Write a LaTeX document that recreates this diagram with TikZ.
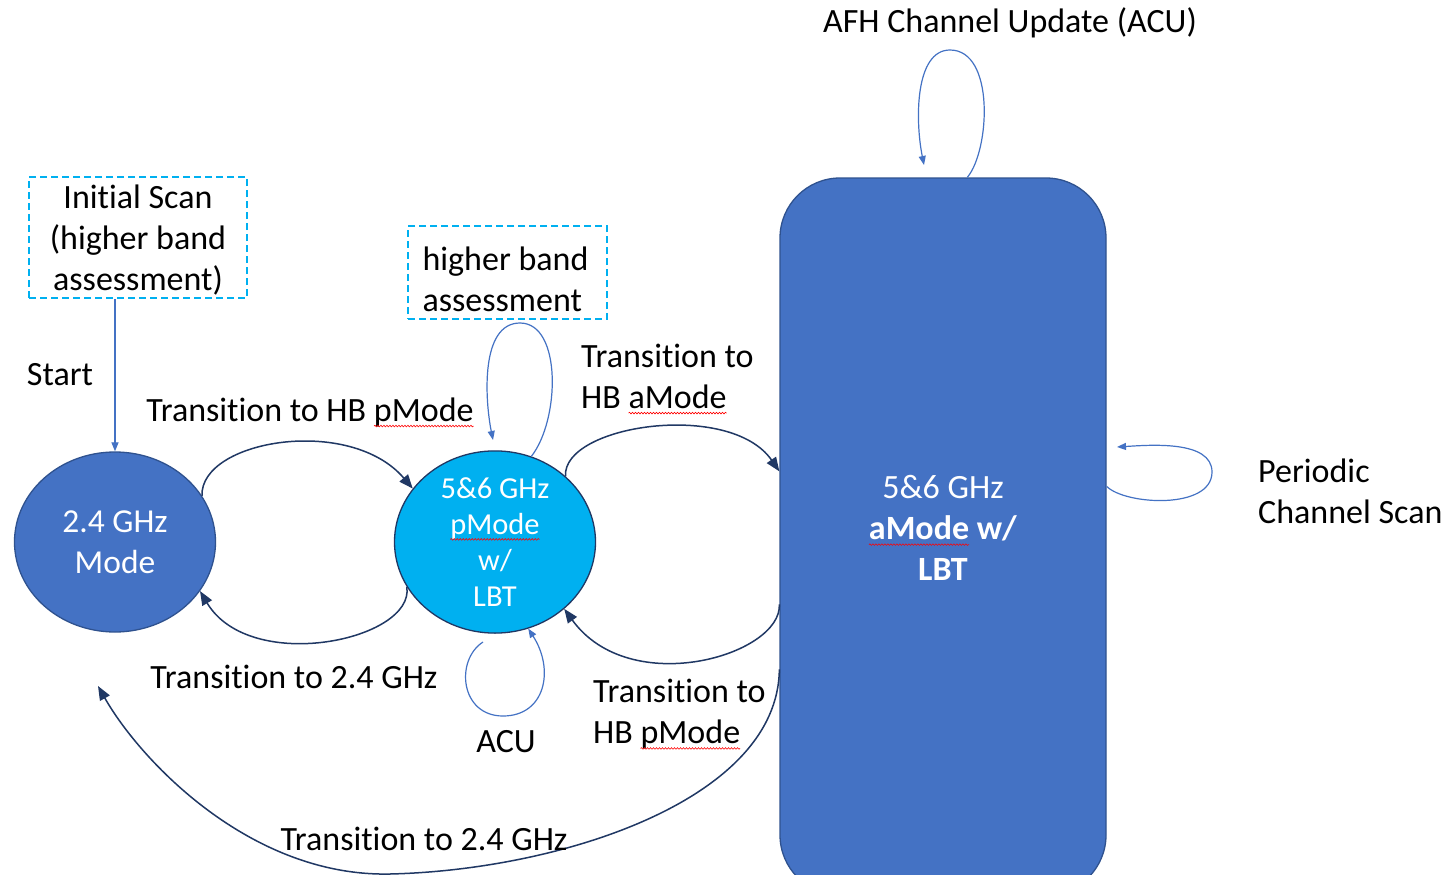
\documentclass[tikz,border=0pt]{standalone}
\usepackage{fontspec}
\setmainfont{Carlito}[RawFeature={-liga;-clig;-dlig;-calt}]
\usetikzlibrary{arrows.meta,shapes.geometric,calc,decorations.pathmorphing}
\definecolor{bluefill}{HTML}{4472C4}
\definecolor{cyanfill}{HTML}{00B0F0}
\definecolor{navy}{HTML}{203864}
\definecolor{bordblue}{HTML}{2F528F}
\definecolor{dashcyan}{HTML}{00B0F0}
\newsavebox\sqbox
\newlength\sqlen
\newcommand\squig[1]{\sbox\sqbox{#1}\setlength\sqlen{\wd\sqbox}\rlap{\usebox\sqbox}\tikz[overlay,baseline=0pt]\draw[red,line width=0.6pt,decorate,decoration={snake,amplitude=0.8pt,segment length=3pt}] (0pt,-5pt)--(\sqlen,-5pt);\kern\sqlen\relax}
\begin{document}
\begin{tikzpicture}[x=1pt,y=-1pt,
 lab/.style={font=\fontsize{34}{41}\selectfont,inner sep=0pt,align=center},
 conn/.style={draw=navy,line width=1.5pt,-{Triangle[length=14pt,width=11pt]}},
 loopln/.style={draw=bluefill,line width=1.2pt,-{Triangle[length=9pt,width=7pt]}},
 dashbox/.style={draw=dashcyan,line width=2pt,dash pattern=on 7pt off 4pt,inner sep=0pt},
 statenode/.style={ellipse,line width=1.3pt,inner sep=0pt,minimum width=201pt,minimum height=180pt,text=white,align=center}]
\useasboundingbox (0,0) rectangle (1448,875);
\fill[white] (0,0) rectangle (1448,875);
\clip (0,0) rectangle (1448,875);

% dashed note boxes
\node[dashbox,minimum width=218pt,minimum height=121pt] (init) at (138,237.5) {};
\node[lab] (inittxt) at ($(init.center)+(0,3)$) {Initial Scan\\(higher band\\assessment)};
\node[dashbox,minimum width=199pt,minimum height=93pt] (hb) at (507.5,272.5) {};
\node[lab,align=left] (hbtxt) at ($(hb.center)+(-2,7)$) {higher band\\assessment};

% states
\node[statenode,fill=bluefill,draw=bordblue,font=\fontsize{33.5}{41}\selectfont] (a) at (115,542) {2.4 GHz\\Mode};
\node[statenode,fill=cyanfill,draw=navy,font=\fontsize{30.5}{36}\selectfont] (b) at (495,542) {5\&6 GHz\\\squig{pMode}\\w/\\LBT};
\node[draw=bordblue,fill=bluefill,line width=1.3pt,rounded corners=60pt,minimum width=326pt,minimum height=717pt,inner sep=0pt] (c) at (943,536.5) {};
\node[lab,text=white] (ctxt) at (943,528) {5\&6 GHz\\\textbf{\squig{aMode} w/}\\\textbf{LBT}};

% labels
\node[lab] (start) at (60,375) {Start};
\node[lab] (l1) at (310,412) {Transition to HB \squig{pMode}};
\node[lab] (l2) at (294,677) {Transition to 2.4 GHz};
\node[lab,align=left,anchor=west] (l3) at (581,376) {Transition to\\HB \squig{aMode}};
\node[lab,align=left,anchor=west] (l4) at (593,714) {Transition to\\HB \squig{pMode}};
\node[lab] (l5) at (506,742) {ACU};
\node[lab] (l7) at (1010,23) {AFH Channel Update (ACU)};
\node[lab,align=left,anchor=west] (l8) at (1258,491) {Periodic\\Channel Scan};

% free ends
\coordinate (tipA) at (98,686);
\coordinate (tipB) at (493,440);
\coordinate (acuStart) at (483,642);
\coordinate (tipC) at (924,165);
\coordinate (tipD) at (1117,447);

% connectors
\draw[loopln] (init.south -| a.north) -- (a.north);
\draw[conn] (a.28) .. controls (200,440) and (350,415) .. (b.147);
\draw[conn] (b.207) .. controls (415,640) and (250,675) .. (a.-30);
\draw[conn] (b.43) .. controls (562,425) and (730,400) .. ($(c.north west)+(0,294)$);
\draw[conn] ($(c.north west)+(0,427)$) .. controls (782,655) and (630,700) .. (b.-44);
\draw[conn] ($(c.north west)+(0,492)$) .. controls (778,800) and (560,870) .. (390,874) .. controls (250,877) and (140,760) .. (tipA);
\node[lab] (l6) at (424,839) {Transition to 2.4 GHz};

% self loops
\draw[loopln] (b.67) .. controls (560,420) and (562,323) .. (520,323) .. controls (480,323) and (485,400) .. (tipB);
\draw[loopln] (acuStart) .. controls (455,660) and (460,716) .. (503,716) .. controls (545,716) and (555,670) .. (b.-69);
\draw[loopln] ($(c.north west)+(188,0)$) .. controls (990,150) and (995,50) .. (950,50) .. controls (915,50) and (915,120) .. (tipC);
\draw[loopln] ($(c.north east)+(0,309)$) .. controls (1125,505) and (1212,510) .. (1212,472) .. controls (1212,440) and (1150,445) .. (tipD);
\end{tikzpicture}
\end{document}
